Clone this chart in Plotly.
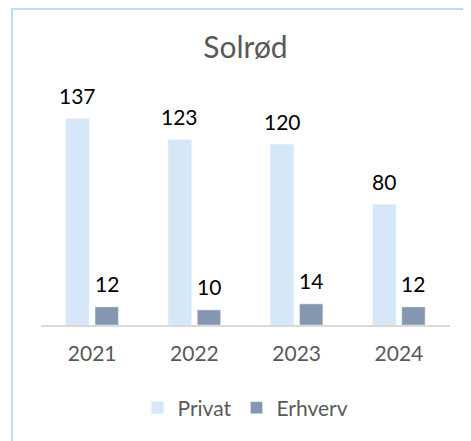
import plotly.graph_objects as go

years = ["2021", "2022", "2023", "2024"]
privat = [137, 123, 120, 80]
erhverv = [12, 10, 14, 12]

# the page body has an 8px margin, so the figure is drawn 8px in
W, H = 463, 433
L, R, T, B = 33, 21, 76, 116
ph = H - T - B
pw = W - L - R


def px(x):
    return (x - L) / pw


def py(y):
    return (H - B - y) / ph


fig = go.Figure()
fig.add_trace(go.Bar(x=years, y=privat, name="Privat",
                     marker=dict(color="#D6E8F8")))
fig.add_trace(go.Bar(x=years, y=erhverv, name="Erhverv",
                     marker=dict(color="#8496B0")))

# value labels above the bars (x given as category index)
half = (1 - 0.43) * pw / len(years) / 4
for vals, dx in [(privat, -half), (erhverv, half)]:
    for i, v in enumerate(vals):
        fig.add_annotation(x=i, y=v, text=str(v), showarrow=False,
                           xshift=dx, yshift=23, yanchor="middle",
                           font=dict(size=21, color="#000000"))

# light blue frame round the chart
fig.add_shape(type="rect", xref="paper", yref="paper",
              x0=px(4), x1=px(480), y0=py(460), y1=py(1),
              line=dict(color="#B8DEF8", width=2), layer="below")

fig.update_layout(
    width=W, height=H,
    margin=dict(l=L, r=R, t=T, b=B),
    paper_bgcolor="white", plot_bgcolor="white",
    font=dict(family="Lato", color="#595959"),
    title=dict(text="Solrød", x=0.5, xref="paper", y=1 - 39 / H,
               yanchor="middle", font=dict(size=30, color="#595959")),
    barmode="group", bargap=0.43, bargroupgap=0.2,
    showlegend=True,
    legend=dict(orientation="h", x=0.5, xanchor="center",
                y=py(400), yanchor="middle",
                font=dict(size=21, color="#595959")),
    xaxis=dict(type="category", range=[-0.5, len(years) - 0.5],
               showline=True, linecolor="#D9D9D9",
               linewidth=2, ticks="outside", ticklen=9,
               tickcolor="rgba(0,0,0,0)",
               tickfont=dict(size=21, color="#595959")),
    yaxis=dict(range=[0, 160], visible=False, showgrid=False),
)

fig.write_html("out.html")
